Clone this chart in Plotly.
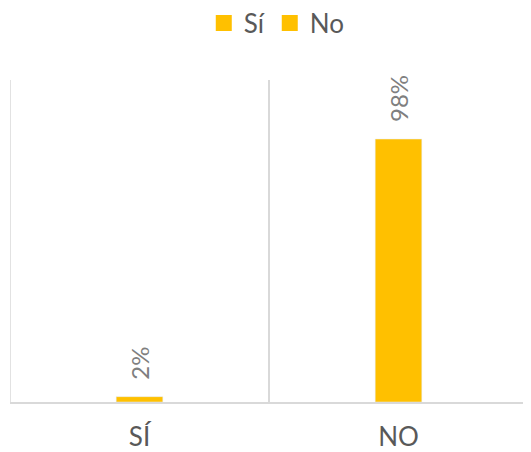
import plotly.graph_objects as go

categories = ["SÍ", "NO"]
series_names = ["Sí", "No"]
si_values = [2, None]
no_values = [None, 98]

bar_color = "#FFC000"
grid_color = "#D9D9D9"
font_family = "Lato, 'Open Sans', sans-serif"

fig = go.Figure()

for name, values in zip(series_names, [si_values, no_values]):
    fig.add_trace(go.Bar(
        x=categories,
        y=values,
        name=name,
        marker_color=bar_color,
        width=0.18,
        showlegend=False
    ))
    # legend entry with a bigger square than plotly's bar swatch
    fig.add_trace(go.Scatter(
        x=[None],
        y=[None],
        mode="markers",
        name=name,
        marker=dict(symbol="square", size=18, color=bar_color)
    ))
    # data labels, rotated like Excel's
    for cat, v in zip(categories, values):
        if v is None:
            continue
        fig.add_annotation(
            x=cat,
            y=v,
            text=f"{v}%",
            textangle=-90,
            showarrow=False,
            xanchor="center",
            yanchor="bottom",
            yshift=15,
            font=dict(color="#7F7F7F", size=24, family=font_family)
        )

# left category boundary line (plotly skips gridlines on the range edge)
fig.add_shape(
    type="line",
    xref="x",
    yref="paper",
    x0=-0.5,
    x1=-0.5,
    y0=0,
    y1=1,
    line=dict(color=grid_color, width=1.5)
)

fig.update_layout(
    width=523,
    height=444,
    barmode="overlay",
    plot_bgcolor="white",
    paper_bgcolor="white",
    margin=dict(l=2, r=3, t=72, b=50),
    font=dict(family=font_family, color="#595959"),
    legend=dict(
        orientation="h",
        x=0.515,
        xanchor="center",
        y=0.966,
        yref="container",
        yanchor="middle",
        font=dict(size=26, color="#595959"),
        itemwidth=30
    ),
    showlegend=True
)

fig.update_xaxes(
    tickson="boundaries",
    showgrid=True,
    gridcolor=grid_color,
    gridwidth=1.5,
    showline=True,
    linecolor=grid_color,
    linewidth=2,
    ticks="",
    automargin=False,
    ticklabelstandoff=11,
    tickfont=dict(size=26, color="#595959"),
    range=[-0.5, 1.5]
)
fig.update_yaxes(
    range=[0, 120],
    showgrid=False,
    showticklabels=False,
    zeroline=False
)

fig.write_html("out.html")
